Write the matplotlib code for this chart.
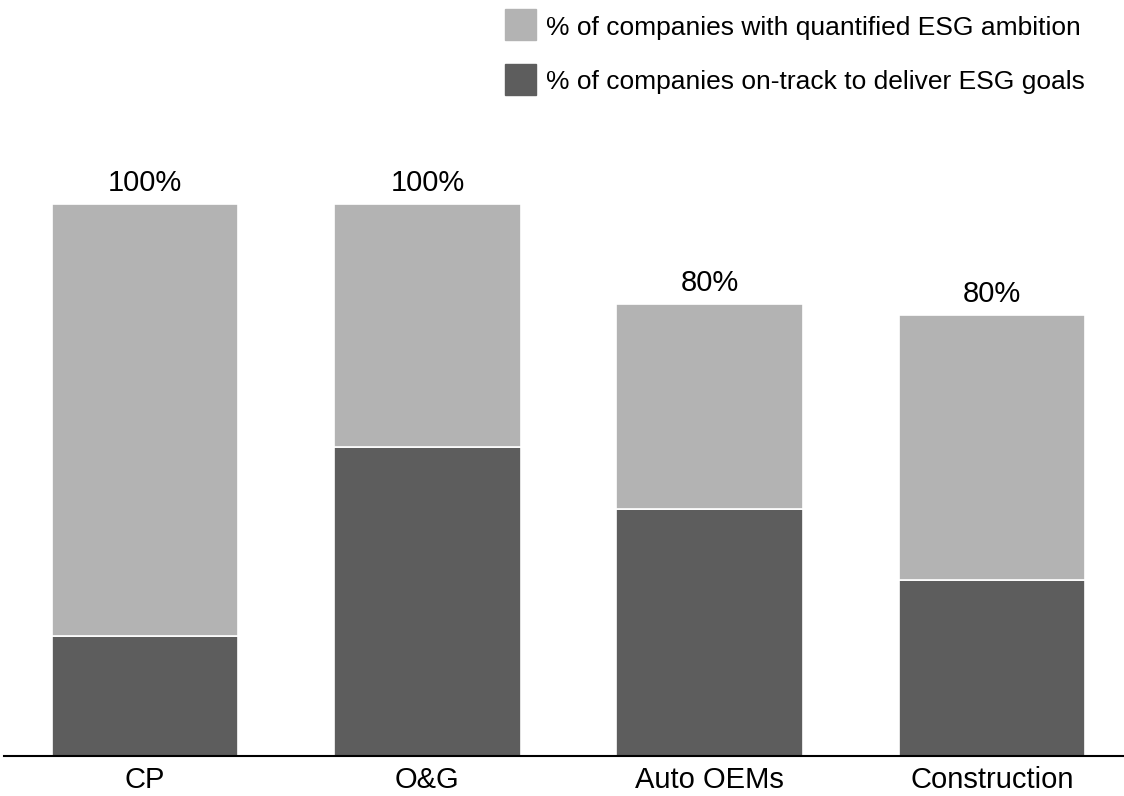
import matplotlib
matplotlib.use("Agg")
import matplotlib.pyplot as plt
from matplotlib.patches import Rectangle

plt.rcParams['font.family'] = ['Liberation Sans', 'DejaVu Sans']

categories = ['CP', 'O&G', 'Auto OEMs', 'Construction']
ambition = [100, 100, 81.9, 79.9]      # % with quantified ESG ambition (bar total)
on_track = [21.8, 55.9, 44.8, 31.8]    # % on-track to deliver ESG goals
labels = ['100%', '100%', '80%', '80%']

LIGHT = '#b3b3b3'
DARK = '#5d5d5d'

W, H = 1124, 796
fig = plt.figure(figsize=(W / 100, H / 100), dpi=100)
# axes runs a little past the right edge so the bars line up with the reference
ax = fig.add_axes([4 / W, 1 - 756 / H, 1129 / W, 552 / H])

x = range(len(categories))
rest = [a - b for a, b in zip(ambition, on_track)]
ax.bar(x, on_track, width=0.66, color=DARK, edgecolor='white', linewidth=1.2)
ax.bar(x, rest, bottom=on_track, width=0.66, color=LIGHT, edgecolor='white', linewidth=1.2)

for i, (v, lab) in enumerate(zip(ambition, labels)):
    ax.annotate(lab, (i, v), xytext=(0, 5), textcoords='offset points',
                ha='center', va='bottom', fontsize=21, clip_on=False)

ax.set_xlim(-0.5, 3.5)
ax.set_ylim(0, 100)
ax.set_xticks(list(x))
ax.set_xticklabels(categories, fontsize=21)
ax.tick_params(axis='x', length=0, pad=7)
ax.set_yticks([])
for s in ['top', 'right', 'left']:
    ax.spines[s].set_visible(False)
ax.spines['bottom'].set_linewidth(1.5)
ax.spines['bottom'].set_color('black')

# legend, drawn in figure pixels
items = [(LIGHT, '% of companies with quantified ESG ambition', 24, 27.5),
         (DARK, '% of companies on-track to deliver ESG goals', 79, 82.5)]
for col, txt, yc, yt in items:
    fig.add_artist(Rectangle((505 / W, 1 - (yc + 15.5) / H), 31 / W, 31 / H,
                             transform=fig.transFigure, color=col))
    fig.text(546 / W, 1 - yt / H, txt, fontsize=19, va='center', ha='left')

fig.savefig('out.png', dpi=100)
